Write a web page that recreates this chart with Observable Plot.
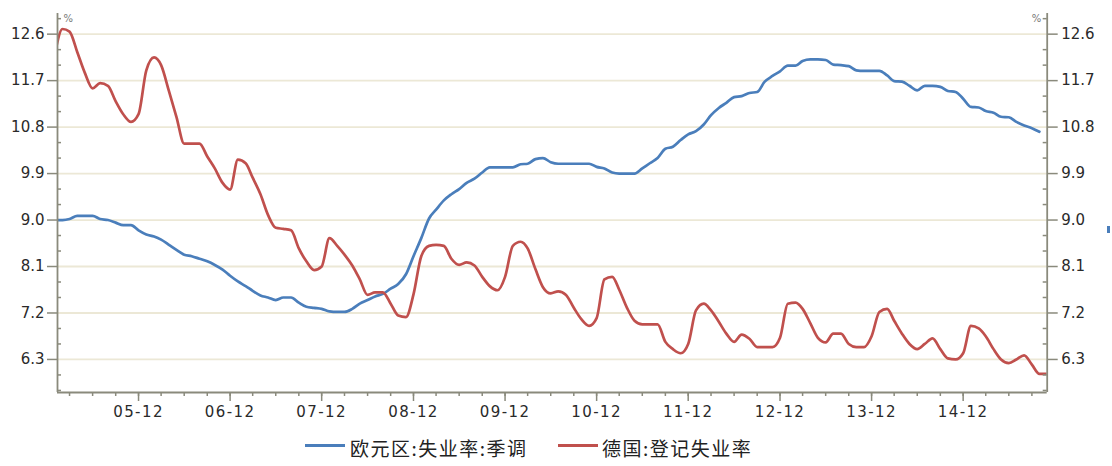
<!DOCTYPE html>
<html>
<head>
<meta charset="utf-8">
<script src="https://cdn.jsdelivr.net/npm/d3@7"></script>
<script src="https://cdn.jsdelivr.net/npm/@observablehq/plot@0.6"></script>
<style>
  html, body { margin: 0; padding: 0; background: #fff; }
  body { width: 1112px; height: 466px; overflow: hidden; position: relative; font-family: "DejaVu Sans", sans-serif; }
  #chart { position: absolute; left: 0; top: 0; }
  #chart g[aria-label="x-axis tick label"] text { letter-spacing: 1.4px; }
  .swatch { position: absolute; height: 3px; width: 40px; }
  .ltext { position: absolute; font-family: "Noto Sans CJK SC", sans-serif; font-size: 19px; line-height: 22px; color: #222; letter-spacing: 1.5px; white-space: nowrap; }
  #stub { position: absolute; left: 1107px; top: 226px; width: 3px; height: 7px; background: #4a7ebb; }
</style>
</head>
<body>
<div id="chart"></div>
<div id="legend"></div>
<div id="stub"></div>
<script>
// ---- data (monthly, starting 2005-01) ----
const startYear = 2005;
const seriesNames = ["欧元区:失业率:季调", "德国:登记失业率"];
const seriesColors = ["#4a7ebb", "#c0504d"];

// 欧元区:失业率:季调 (2005-01 .. 2015-10)
const euroRate = [
  9.0, 9.0, 9.02, 9.08, 9.08, 9.08, 9.02, 9.0, 8.95, 8.9, 8.9, 8.8,
  8.72, 8.68, 8.62, 8.52, 8.42, 8.33, 8.3, 8.25, 8.2, 8.13, 8.04, 7.92,
  7.81, 7.72, 7.63, 7.54, 7.5, 7.45, 7.5, 7.5, 7.4, 7.32, 7.3, 7.28,
  7.23, 7.22, 7.22, 7.28, 7.38, 7.45, 7.52, 7.57, 7.67, 7.76, 7.95, 8.3,
  8.65, 9.03, 9.2, 9.38, 9.5, 9.6, 9.72, 9.8, 9.92, 10.02, 10.02, 10.02,
  10.02, 10.08, 10.09, 10.18, 10.2, 10.12, 10.09, 10.09, 10.09, 10.09, 10.09, 10.03,
  10.0, 9.92, 9.9, 9.9, 9.9, 10.0, 10.1, 10.2, 10.38, 10.42, 10.55, 10.66,
  10.72, 10.85, 11.03, 11.17, 11.27, 11.38, 11.4, 11.46, 11.48, 11.68, 11.79, 11.88,
  11.99, 11.99, 12.08, 12.11, 12.11, 12.1, 12.01, 12.0, 11.98, 11.9, 11.89, 11.89,
  11.89, 11.8, 11.69, 11.68, 11.6, 11.51, 11.6, 11.6, 11.58, 11.5, 11.48, 11.35,
  11.19, 11.18, 11.11, 11.08, 11.0, 10.99, 10.9, 10.83, 10.78, 10.71
];

// 德国:登记失业率 (2005-01 .. 2015-11)
const germanRate = [
  12.2, 12.7, 12.65, 12.25, 11.85, 11.55, 11.65, 11.6, 11.3, 11.05, 10.9, 11.05,
  11.9, 12.15, 12.0, 11.5, 11.0, 10.48, 10.48, 10.48, 10.23, 10.0, 9.72, 9.59,
  10.17, 10.1, 9.82, 9.5, 9.1, 8.85, 8.83, 8.8, 8.45, 8.2, 8.03, 8.1,
  8.65, 8.5, 8.33, 8.12, 7.85, 7.55, 7.6, 7.6, 7.38, 7.15, 7.12, 7.56,
  8.3, 8.5, 8.52, 8.5, 8.25, 8.13, 8.18, 8.12, 7.9, 7.72, 7.64, 7.9,
  8.5, 8.58, 8.45, 8.05, 7.7, 7.58, 7.62, 7.55, 7.3, 7.08, 6.95, 7.1,
  7.85, 7.9, 7.65, 7.3, 7.05, 6.98, 6.98, 6.98, 6.64, 6.5, 6.42, 6.6,
  7.25, 7.38, 7.25, 7.03, 6.8, 6.64, 6.78, 6.7, 6.54, 6.54, 6.54, 6.72,
  7.38, 7.4, 7.28, 7.0, 6.72, 6.63, 6.8, 6.8, 6.6, 6.54, 6.54, 6.75,
  7.22, 7.28, 7.05, 6.8, 6.6, 6.5, 6.6, 6.71, 6.5, 6.32, 6.3, 6.42,
  6.95, 6.9, 6.75, 6.5, 6.3, 6.23, 6.3, 6.38, 6.2, 6.02, 6.02
];

const xTickLabels = ["05-12", "06-12", "07-12", "08-12", "09-12", "10-12", "11-12", "12-12", "13-12", "14-12"];
const yTickLabels = ["6.3", "7.2", "8.1", "9.0", "9.9", "10.8", "11.7", "12.6"];
const yMinorTicks = [5.7, 6.0, 6.6, 6.9, 7.5, 7.8, 8.4, 8.7, 9.3, 9.6, 10.2, 10.5, 11.1, 11.4, 12.0, 12.3, 12.9];
const unitLabel = "%";

// ---- build ----
const monthDate = i => new Date(Date.UTC(startYear, i, 1));
const euroData = euroRate.map((v, i) => ({date: monthDate(i), value: v}));
const germanData = germanRate.map((v, i) => ({date: monthDate(i), value: v}));
const xMajor = xTickLabels.map(s => new Date(Date.UTC(2000 + +s.slice(0, 2), +s.slice(3) - 1, 1)));
const xMinor = [];
for (let y = 2005; y <= 2015; y++) for (const m of [2, 5, 8, 11]) {
  const d = new Date(Date.UTC(y, m, 1));
  if (d <= new Date(Date.UTC(2015, 10, 1))) xMinor.push(d);
}
const yMajor = yTickLabels.map(Number);

const W = 1112, H = 420, ML = 57, MR = 65.3, MT = 13, MB = 28;
const frameW = W - ML - MR;
const xDomain = [new Date(Date.UTC(2005, 0, 12)), new Date(Date.UTC(2015, 10, 1))];
const yDomain = [5.66, 13.0];
const axisColor = "#8a8a7c";
const textColor = "#2a2a2a";
const gridColor = "#ece8d6";

const chart = Plot.plot({
  width: W, height: H,
  marginLeft: ML, marginRight: MR, marginTop: MT, marginBottom: MB,
  style: {background: "#fff", fontFamily: "DejaVu Sans, sans-serif", fontSize: "15px", color: textColor, overflow: "visible"},
  x: {type: "utc", domain: xDomain, axis: null, label: null},
  y: {domain: yDomain, axis: null, label: null},
  marks: [
    Plot.ruleY(yMajor, {stroke: gridColor, strokeWidth: 1.8}),
    Plot.line(euroData, {x: "date", y: "value", stroke: seriesColors[0], strokeWidth: 2.7, curve: "monotone-x", clip: true}),
    Plot.line(germanData, {x: "date", y: "value", stroke: seriesColors[1], strokeWidth: 2.7, curve: "monotone-x", clip: true}),
    Plot.ruleX(xDomain, {stroke: axisColor, strokeWidth: 1.8}),
    Plot.ruleY([yDomain[0]], {stroke: axisColor, strokeWidth: 1.8}),
    // left axis
    Plot.axisY(yMajor, {anchor: "left", tickSize: 10, tickPadding: 3, tickFormat: d => d.toFixed(1), stroke: axisColor, fill: textColor, strokeWidth: 1.5, fontSize: 15, label: null}),
    Plot.tickY(yMinorTicks, {y: d => d, insetRight: frameW - 4, stroke: axisColor, strokeWidth: 1.5}),
    // right axis
    Plot.axisY(yMajor, {anchor: "right", tickSize: 10, tickPadding: 4, tickFormat: d => d.toFixed(1), stroke: axisColor, fill: textColor, strokeWidth: 1.5, fontSize: 15, label: null}),
    Plot.tickY(yMinorTicks, {y: d => d, insetLeft: frameW - 4, stroke: axisColor, strokeWidth: 1.5}),
    // x axis
    Plot.axisX(xMajor, {tickSize: 9, tickPadding: 5, tickFormat: d => xTickLabels[xMajor.findIndex(m => +m === +d)], stroke: axisColor, fill: textColor, strokeWidth: 1.5, fontSize: 15, label: null}),
    Plot.axisX(xMinor, {tickSize: 4, tickFormat: () => "", stroke: axisColor, strokeWidth: 1.5, label: null}),
    // unit labels
    Plot.text([unitLabel], {text: d => d, frameAnchor: "top-left", dx: 6, dy: 1, textAnchor: "start", fontSize: 10, fill: "#777"}),
    Plot.text([unitLabel], {text: d => d, frameAnchor: "top-right", dx: -6, dy: 1, textAnchor: "end", fontSize: 10, fill: "#777"})
  ]
});
document.getElementById("chart").appendChild(chart);

// ---- legend ----
const legend = document.getElementById("legend");
const legendItems = [
  {name: seriesNames[0], color: seriesColors[0], sx: 305, tx: 350},
  {name: seriesNames[1], color: seriesColors[1], sx: 558, tx: 602}
];
for (const it of legendItems) {
  const sw = document.createElement("div");
  sw.className = "swatch";
  sw.style.left = it.sx + "px";
  sw.style.top = "444px";
  sw.style.background = it.color;
  legend.appendChild(sw);
  const t = document.createElement("div");
  t.className = "ltext";
  t.style.left = it.tx + "px";
  t.style.top = "437px";
  t.textContent = it.name;
  legend.appendChild(t);
}
</script>
</body>
</html>
